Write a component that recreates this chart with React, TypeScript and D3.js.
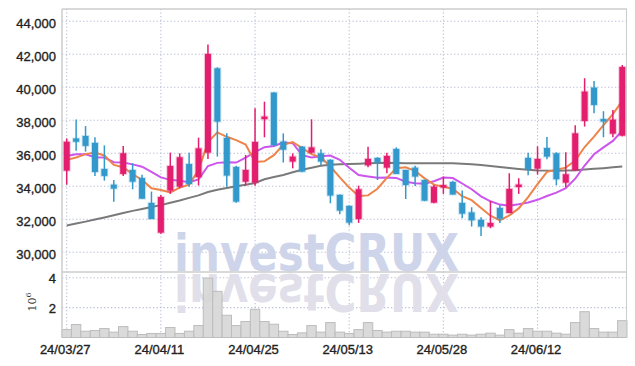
import React from 'react';
import * as d3 from 'd3';

const dates = [
  '24/03/27','24/03/28','24/03/29','24/04/01','24/04/02','24/04/03','24/04/04','24/04/05','24/04/08','24/04/09',
  '24/04/11','24/04/12','24/04/15','24/04/16','24/04/17','24/04/18','24/04/19','24/04/22','24/04/23','24/04/24',
  '24/04/25','24/04/26','24/04/29','24/04/30','24/05/02','24/05/03','24/05/07','24/05/08','24/05/09','24/05/10',
  '24/05/13','24/05/14','24/05/16','24/05/17','24/05/20','24/05/21','24/05/22','24/05/23','24/05/24','24/05/27',
  '24/05/28','24/05/29','24/05/30','24/05/31','24/06/03','24/06/04','24/06/05','24/06/07','24/06/10','24/06/11',
  '24/06/12','24/06/13','24/06/14','24/06/17','24/06/18','24/06/19','24/06/20','24/06/21','24/06/24','24/06/25',
];

const opens = [
  34950, 36900, 37050, 36630, 35050, 34100, 34750, 34990, 34500, 32990,
  31190, 33740, 33980, 35350, 34550, 36040, 41150, 36930, 35170, 34280,
  34220, 38100, 39680, 36710, 35500, 36400, 36040, 36000, 35600, 33480,
  32810, 32020, 35270, 35720, 35130, 36260, 34990, 35130, 34380, 33010,
  33950, 34260, 32990, 32420, 31960, 31560, 32690, 32380, 34000, 35720,
  35070, 36320, 36000, 34220, 34970, 37960, 39980, 38040, 37190, 37070,
];
const highs = [
  36900, 38050, 37650, 36970, 36480, 34380, 36440, 35400, 34700, 33680,
  33480, 36040, 36000, 36040, 36950, 42590, 41210, 37210, 35250, 35900,
  38730, 39130, 39700, 37210, 36000, 36450, 38060, 36240, 35640, 33500,
  32830, 34040, 36400, 35760, 36040, 36360, 35000, 35250, 34400, 34080,
  34590, 34340, 33740, 32730, 32120, 33110, 32870, 34790, 34490, 36040,
  36420, 36990, 36060, 36060, 37700, 40550, 40380, 38550, 38630, 41350,
];
const lows = [
  34100, 36150, 36100, 34630, 34340, 33070, 34630, 33820, 33250, 32020,
  31130, 33540, 33880, 33980, 34050, 35660, 35800, 33980, 33010, 34040,
  34040, 36970, 36450, 35440, 35090, 34850, 36000, 35290, 32970, 32300,
  31640, 31780, 35150, 34380, 34790, 34750, 33230, 34020, 33100, 32970,
  33540, 33500, 32060, 31560, 30990, 31460, 31780, 32380, 33540, 34670,
  34710, 35640, 34060, 33940, 34930, 37620, 38420, 36970, 36970, 37030,
];
const closes = [
  36700, 36700, 36450, 34870, 34630, 33860, 36000, 34280, 33250, 32020,
  33350, 35230, 35760, 34140, 36300, 42020, 37920, 34650, 33070, 34990,
  36690, 38200, 36490, 36220, 35800, 34890, 36360, 35500, 33440, 32530,
  31800, 33820, 35660, 35440, 35840, 34750, 34080, 34590, 33130, 33980,
  34050, 33500, 32340, 31940, 31560, 31780, 32040, 33840, 34060, 35050,
  35660, 35800, 34430, 34730, 37210, 39740, 38930, 37960, 38040, 41230,
];
// volume, millions of shares
const volumes = [
  0.53, 0.87, 0.42, 0.47, 0.6, 0.36, 0.73, 0.42, 0.2, 0.27,
  0.27, 0.67, 0.27, 0.42, 0.8, 3.98, 3.09, 1.49, 0.8, 1.07,
  1.89, 1.07, 0.89, 0.42, 0.2, 0.31, 0.8, 0.36, 1.0, 0.36,
  0.27, 0.53, 1.0, 0.47, 0.36, 0.42, 0.42, 0.36, 0.36, 0.22,
  0.22, 0.16, 0.22, 0.16, 0.22, 0.29, 0.16, 0.53, 0.29, 0.6,
  0.42, 0.42, 0.29, 0.22, 1.0, 1.73, 0.6, 0.36, 0.36, 1.13,
];
const ma5 = [
  35600, 35750, 35950, 36050, 35870, 35300, 35160, 34730, 34400, 33880,
  33780, 33630, 33920, 34100, 34990, 36680, 37270, 37000, 36800, 36530,
  35470, 35520, 35890, 36520, 36680, 36320, 35950, 35750, 35200, 34540,
  33920, 33410, 33450, 33850, 34510, 35100, 35150, 34940, 34480, 34100,
  33970, 33850, 33400, 33160, 32680, 32220, 31930, 32230, 32660, 33350,
  34130, 34880, 35000, 35130, 35560, 36380, 37010, 37710, 38380, 39180,
];
const ma10 = [
  35840, 35940, 35940, 35760, 35740, 35460, 35440, 35330, 35190, 34880,
  34540, 34390, 34330, 34250, 34420, 35230, 35420, 35460, 35440, 35740,
  36070, 36370, 36440, 36650, 36610, 35890, 35740, 35820, 35860, 35610,
  35120, 34680, 34600, 34520, 34530, 34510, 34280, 34190, 34160, 34310,
  34530, 34500, 34170, 33820, 33390, 33090, 32890, 32820, 32910, 33020,
  33180, 33410, 33620, 33890, 34460, 35260, 35940, 36360, 36750, 37370,
];
const ma60 = [
  31620, 31740, 31860, 31990, 32110, 32240, 32380, 32510, 32630, 32740,
  32860, 33000, 33140, 33300, 33450, 33650, 33790, 33900, 34000, 34100,
  34200, 34430, 34560, 34690, 34850, 35000, 35130, 35250, 35310, 35330,
  35350, 35370, 35390, 35410, 35420, 35410, 35400, 35400, 35400, 35400,
  35400, 35390, 35370, 35340, 35290, 35230, 35170, 35110, 35050, 35000,
  34960, 34950, 34950, 34960, 34980, 35020, 35060, 35100, 35150, 35200,
];
const priceTicks = [30000, 32000, 34000, 36000, 38000, 40000, 42000, 44000];
const volumeTicks = [2, 4];
const labelIndices = [0, 10, 20, 30, 40, 50];

const UP = '#e31e6e';
const DOWN = '#3399cc';
const GRID = '#b9bed6';
const FRAME = '#cccccc';

export default function App() {
  const L = 62, R = 627, T = 9, MID = 272, VB = 337.5;
  const x = d3.scaleBand<string>().domain(dates).range([L, R]).padding(0);
  const bw = x.bandwidth();
  const cx = (i: number) => (x(dates[i]) as number) + bw / 2;
  const y = d3.scaleLinear().domain([30000, 44000]).range([252.3, 21.3]);
  const yv = d3.scaleLinear().domain([0, 4]).range([VB, 277.8]);
  const idx = d3.range(dates.length);
  const line = (arr: number[]) =>
    d3.line<number>().x((_, i) => cx(i)).y((v) => y(v)).curve(d3.curveLinear)(arr) as string;
  const fmt = d3.format(',');
  const bodyW = 6;
  const font = '"Liberation Sans", Arial, sans-serif';

  return (
    <svg width={635} height={366} style={{ position: 'absolute', left: 0, top: 0, background: '#fff' }}>
      {/* grid */}
      {priceTicks.map((t) => (
        <line key={'h' + t} x1={L} x2={R} y1={y(t)} y2={y(t)} stroke={GRID} strokeWidth={1.1} strokeDasharray="1.3,2.2" />
      ))}
      {volumeTicks.map((t) => (
        <line key={'vh' + t} x1={L} x2={R} y1={yv(t)} y2={yv(t)} stroke={GRID} strokeWidth={1.1} strokeDasharray="1.3,2.2" />
      ))}
      {labelIndices.map((i) => (
        <line key={'v' + i} x1={cx(i)} x2={cx(i)} y1={T} y2={VB} stroke={GRID} strokeWidth={1.1} strokeDasharray="1.3,2.2" />
      ))}

      {/* watermark with reflection */}
      <text x={174} y={271} fontFamily='"DejaVu Sans", sans-serif' fontWeight="bold" fontSize={52}
        fill="#ced5ea" textLength={285} lengthAdjust="spacingAndGlyphs">investCRUX</text>
      <g transform="translate(0,545) scale(1,-1)">
        <text x={174} y={271} fontFamily='"DejaVu Sans", sans-serif' fontWeight="bold" fontSize={52}
          fill="#e0dfea" textLength={285} lengthAdjust="spacingAndGlyphs">investCRUX</text>
      </g>

      {/* volume bars */}
      {idx.map((i) => (
        <rect key={'vol' + i} x={x(dates[i]) as number} width={bw} y={yv(volumes[i])} height={VB - yv(volumes[i])}
          fill="#d6d6d6" fillOpacity={0.9} stroke="#bdbdbd" strokeWidth={1} />
      ))}

      {/* moving averages */}
      <path d={line(ma60)} fill="none" stroke="#7a7a7a" strokeWidth={2} />
      <path d={line(ma10)} fill="none" stroke="#cc55ee" strokeWidth={2} />
      <path d={line(ma5)} fill="none" stroke="#ee844a" strokeWidth={2} />

      {/* candles */}
      {idx.map((i) => {
        const up = closes[i] >= opens[i];
        const c = up ? UP : DOWN;
        const top = y(Math.max(opens[i], closes[i]));
        const bot = y(Math.min(opens[i], closes[i]));
        const h = Math.max(2.5, bot - top);
        return (
          <g key={'c' + i}>
            <line x1={cx(i)} x2={cx(i)} y1={y(highs[i])} y2={y(lows[i])} stroke={c} strokeWidth={1.5} />
            <rect x={cx(i) - bodyW / 2} width={bodyW} y={top - (h - (bot - top)) / 2} height={h}
              fill={c} stroke={c} strokeOpacity={0.25} strokeWidth={2} />
          </g>
        );
      })}

      {/* frame */}
      <line x1={L} x2={R} y1={T} y2={T} stroke={FRAME} strokeWidth={1.5} />
      <line x1={L} x2={R} y1={MID} y2={MID} stroke={FRAME} strokeWidth={1.5} />
      <line x1={L} x2={L} y1={T} y2={VB} stroke={FRAME} strokeWidth={1.5} />
      <line x1={626.5} x2={626.5} y1={T} y2={VB} stroke={FRAME} strokeWidth={1} />

      {/* y labels */}
      {priceTicks.map((t) => (
        <text key={'yl' + t} x={56} y={y(t) + 7} textAnchor="end" fontFamily={font} fontSize={13}
          fill="#222" stroke="#222" strokeWidth={0.35}>
          {fmt(t)}
        </text>
      ))}
      {volumeTicks.map((t) => (
        <text key={'vl' + t} x={56} y={yv(t) + 5} textAnchor="end" fontFamily={font} fontSize={13}
          fill="#222" stroke="#222" strokeWidth={0.35}>
          {t}
        </text>
      ))}
      <text transform="translate(36,302) rotate(-90)" textAnchor="middle" fontFamily='"DejaVu Serif", serif' fontSize={11} fill="#333">
        10<tspan dy={-5} fontSize={8}>6</tspan>
      </text>

      {/* x labels */}
      {labelIndices.map((i) => (
        <text key={'xl' + i} x={cx(i) - 1.5} y={354} textAnchor="middle" fontFamily={font} fontSize={13}
          fill="#222" stroke="#222" strokeWidth={0.35}>
          {dates[i]}
        </text>
      ))}
    </svg>
  );
}
